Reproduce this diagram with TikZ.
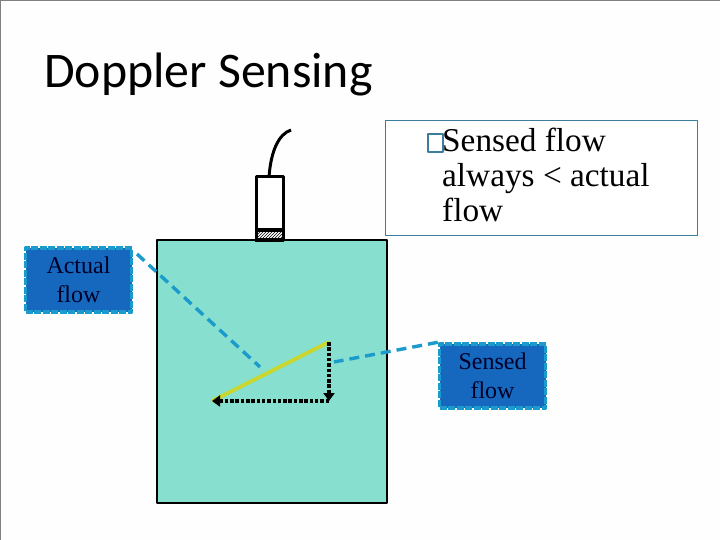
\documentclass[tikz,border=0pt]{standalone}
\usepackage{fontspec}
\setmainfont{Liberation Serif}
\newfontfamily\titlefont{Carlito}
\usetikzlibrary{patterns,arrows.meta}
\definecolor{tankfill}{HTML}{86DFCF}
\definecolor{calloutfill}{HTML}{1568BE}
\definecolor{calloutline}{HTML}{1B9BCB}
\definecolor{noteline}{HTML}{3E7C9E}
\definecolor{flowline}{HTML}{C8D62E}
\tikzset{
  callout/.style={draw=calloutline, fill=calloutfill, line width=3.4pt, dash pattern=on 7pt off 1.5pt,
    minimum width=106pt, minimum height=64pt, inner sep=0pt, align=center, text=black!85!blue,
    font=\fontsize{24}{29}\selectfont},
  calloutlink/.style={draw=calloutline, line width=3.4pt, dash pattern=on 10pt off 6pt},
  component/.style={draw=black, dash pattern=on 3.5pt off 1.8pt, line width=3.4pt, -{Triangle[length=8pt,width=11pt]}}
}
\begin{document}
\begin{tikzpicture}[x=1pt, y=-1pt, line join=round]
    \useasboundingbox (0,0) rectangle (720,540);
    \fill[white!99.5!black] (0,0) rectangle (720,540);
    \draw[black!50, line width=2pt] (0,540) -- (0,0) -- (720,0);
    \node[anchor=west, inner sep=0pt, font=\titlefont\fontsize{49.8}{52}\selectfont] (title) at (44,74) {Doppler Sensing};
    % tank and probe
    \node[draw=black, fill=tankfill, line width=2pt, minimum width=230pt, minimum height=263pt, inner sep=0pt, anchor=north west] (tank) at (155.5,239) {};
    \fill[white] (256,176) rectangle (283,239);
    \fill[pattern=north east lines] (256,230) rectangle (283,239);
    \draw[line width=3pt] (256,177) rectangle (283,240);
    \draw[line width=3pt] (256,230) -- (283,230);
    \draw[line width=4pt] (255,240) -- (284,240);
    \coordinate (cable) at (269,177);
    \draw[line width=3pt] (cable) .. controls (271,150) and (279,134) .. (291,130);
    % note
    \node[draw=noteline, fill=white, line width=1pt, minimum width=312pt, minimum height=114pt, inner sep=0pt, anchor=north west] (note) at (384.5,120.5) {};
    \node[anchor=north west, inner sep=0pt, align=left, font=\fontsize{33.3}{35}\selectfont] (notetext) at (442,128) {Sensed flow\\always < actual\\flow};
    \node[draw=noteline, line width=1.6pt, minimum width=15pt, minimum height=18pt, inner sep=0pt, anchor=north west] (bullet) at (427,133) {};
    % flow vectors
    \coordinate (tip) at (329,342);
    \coordinate (corner) at (329,401);
    \coordinate (tail) at (212,401);
    \draw[flowline, line width=3.8pt] (tail) -- (tip);
    \draw[component] (tip) -- (corner);
    \draw[component] (corner) -- (tail);
    % callouts
    \node[callout] (actual) at (78.5,280) {Actual\\flow};
    \node[callout] (sensed) at (492.5,376) {Sensed\\flow};
    \coordinate (actualstart) at (137,254);
    \coordinate (actualend) at (260,367);
    \coordinate (sensedend) at (334,362);
    \draw[calloutlink] (actualstart) -- (actualend);
    \draw[calloutlink] (sensed.north west) -- (sensedend);
\end{tikzpicture}
\end{document}
